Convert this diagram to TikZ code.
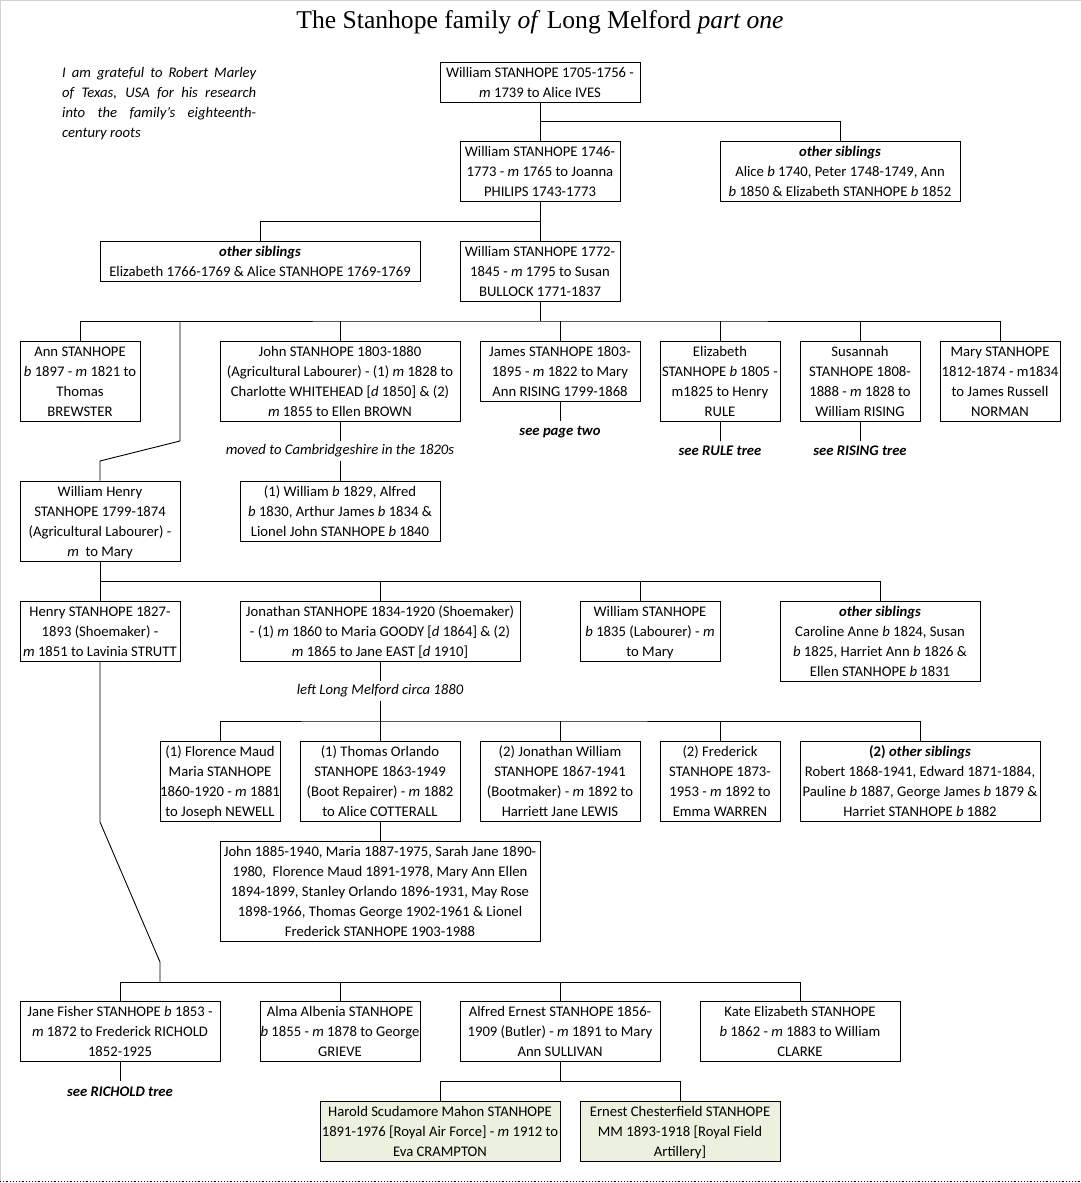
\documentclass[tikz,border=0pt]{standalone}
\usepackage{fontspec}
\setmainfont{Carlito}
\newfontfamily\titlefont{Liberation Serif}
\definecolor{boxgreen}{HTML}{EBF1DE}
\newcommand{\mi}{\textit{m}}
\newcommand{\bi}{\textit{b}}
\newcommand{\di}{\textit{d}}
\newcommand{\osib}{\textbf{\textit{other siblings}}}
\newcommand{\sT}{\rule{0pt}{15pt}}
\newcommand{\sB}{\rule[-5pt]{0pt}{5pt}}
\begin{document}
\begin{tikzpicture}[x=1pt,y=-1pt,
  every node/.style={font=\fontsize{14.67}{20}\selectfont},
  box/.style={draw=black,line width=0.9pt,fill=white,align=center,inner sep=0pt},
  gbox/.style={box,fill=boxgreen},
  lbl/.style={align=center,inner sep=0pt},
  conn/.style={line width=0.9pt,black}]
\useasboundingbox (0,0) rectangle (1081,1183);
\fill[white] (0,0) rectangle (1081,1183);
\draw[gray!35,line width=1.2pt] (0.6,1183) -- (0.6,0.6) -- (1081,0.6);
\draw[dotted,line width=1.2pt] (0,1181.5) -- (1081,1181.5);

% title and note
\node[lbl,font=\titlefont\fontsize{25.6}{28}\selectfont] (title) at (540,22) {The Stanhope family \textit{of} Long Melford \textit{part one}};
\node[lbl,anchor=north west,inner sep=0pt] (note) at (62,67)
 {\begin{minipage}[t]{194pt}\itshape\fontsize{14.67}{20}\selectfont\setlength\baselineskip{20pt}\rule{0pt}{0pt}%
 \hbox to 194pt{I am grateful to Robert Marley}
 \hbox to 194pt{of Texas, USA for his research}
 \hbox to 194pt{into the family's eighteenth-}
 \hbox to 194pt{century roots\hfil}
 \end{minipage}};

% boxes
\node[box,minimum width=200,minimum height=40] (A) at (540,82) {\sT William STANHOPE 1705-1756 -\\\mi\ 1739 to Alice IVES\sB};
\node[box,minimum width=160,minimum height=60] (B) at (540,171) {\sT William STANHOPE 1746-\\1773 - \mi\ 1765 to Joanna\\PHILIPS 1743-1773\sB};
\node[box,minimum width=240,minimum height=60] (C) at (840,171) {\sT\osib\\Alice \bi\ 1740, Peter 1748-1749, Ann\\\bi\ 1850 \& Elizabeth STANHOPE \bi\ 1852\sB};
\node[box,minimum width=320,minimum height=40] (D) at (260,261) {\sT\osib\\Elizabeth 1766-1769 \& Alice STANHOPE 1769-1769\sB};
\node[box,minimum width=160,minimum height=60] (E) at (540,271) {\sT William STANHOPE 1772-\\1845 - \mi\ 1795 to Susan\\BULLOCK 1771-1837\sB};

\node[box,minimum width=120,minimum height=80] (F) at (80,381) {\sT Ann STANHOPE\\\bi\ 1897 - \mi\ 1821 to\\Thomas\\BREWSTER\sB};
\node[box,minimum width=240,minimum height=80] (G) at (340,381) {\sT John STANHOPE 1803-1880\\(Agricultural Labourer) - (1) \mi\ 1828 to\\Charlotte WHITEHEAD [\di\ 1850] \& (2)\\\mi\ 1855 to Ellen BROWN\sB};
\node[box,minimum width=160,minimum height=60] (H) at (560,371) {\sT James STANHOPE 1803-\\1895 - \mi\ 1822 to Mary\\Ann RISING 1799-1868\sB};
\node[box,minimum width=120,minimum height=80] (I) at (720,381) {\sT Elizabeth\\STANHOPE \bi\ 1805 -\\m1825 to Henry\\RULE\sB};
\node[box,minimum width=120,minimum height=80] (J) at (860,381) {\sT Susannah\\STANHOPE 1808-\\1888 - \mi\ 1828 to\\William RISING\sB};
\node[box,minimum width=120,minimum height=80] (K) at (1000,381) {\sT Mary STANHOPE\\1812-1874 - m1834\\to James Russell\\NORMAN\sB};

\node[box,minimum width=200,minimum height=60] (L) at (340,511) {\sT(1) William \bi\ 1829, Alfred\\\bi\ 1830, Arthur James \bi\ 1834 \&\\Lionel John STANHOPE \bi\ 1840\sB};
\node[box,minimum width=160,minimum height=80] (M) at (100,521) {\sT William Henry\\STANHOPE 1799-1874\\(Agricultural Labourer) -\\\mi\ \ to Mary\sB};

\node[box,minimum width=160,minimum height=60] (N) at (100,631) {\sT Henry STANHOPE 1827-\\1893 (Shoemaker) -\\\mi\ 1851 to Lavinia STRUTT\sB};
\node[box,minimum width=280,minimum height=60] (O) at (380,631) {\sT Jonathan STANHOPE 1834-1920 (Shoemaker)\\- (1) \mi\ 1860 to Maria GOODY [\di\ 1864] \& (2)\\\mi\ 1865 to Jane EAST [\di\ 1910]\sB};
\node[box,minimum width=140,minimum height=60] (P) at (650,631) {\sT William STANHOPE\\\bi\ 1835 (Labourer) - \mi\\to Mary\sB};
\node[box,minimum width=200,minimum height=80] (Q) at (880,641) {\sT\osib\\Caroline Anne \bi\ 1824, Susan\\\bi\ 1825, Harriet Ann \bi\ 1826 \&\\Ellen STANHOPE \bi\ 1831\sB};

\node[box,minimum width=120,minimum height=80] (R) at (220,781) {\sT(1) Florence Maud\\Maria STANHOPE\\1860-1920 - \mi\ 1881\\to Joseph NEWELL\sB};
\node[box,minimum width=160,minimum height=80] (S) at (380,781) {\sT(1) Thomas Orlando\\STANHOPE 1863-1949\\(Boot Repairer) - \mi\ 1882\\to Alice COTTERALL\sB};
\node[box,minimum width=160,minimum height=80] (T) at (560,781) {\sT(2) Jonathan William\\STANHOPE 1867-1941\\(Bootmaker) - \mi\ 1892 to\\Harriett Jane LEWIS\sB};
\node[box,minimum width=120,minimum height=80] (U) at (720,781) {\sT(2) Frederick\\STANHOPE 1873-\\1953 - \mi\ 1892 to\\Emma WARREN\sB};
\node[box,minimum width=240,minimum height=80] (V) at (920,781) {\sT\textbf{(2)} \osib\\Robert 1868-1941, Edward 1871-1884,\\Pauline \bi\ 1887, George James \bi\ 1879 \&\\Harriet STANHOPE \bi\ 1882\sB};

\node[box,minimum width=320,minimum height=100] (W) at (380,891) {\sT John 1885-1940, Maria 1887-1975, Sarah Jane 1890-\\1980, \ Florence Maud 1891-1978, Mary Ann Ellen\\1894-1899, Stanley Orlando 1896-1931, May Rose\\1898-1966, Thomas George 1902-1961 \& Lionel\\Frederick STANHOPE 1903-1988\sB};

\node[box,minimum width=200,minimum height=60] (X) at (120,1031) {\sT Jane Fisher STANHOPE \bi\ 1853 -\\\mi\ 1872 to Frederick RICHOLD\\1852-1925\sB};
\node[box,minimum width=160,minimum height=60] (Y) at (340,1031) {\sT Alma Albenia STANHOPE\\\bi\ 1855 - \mi\ 1878 to George\\GRIEVE\sB};
\node[box,minimum width=200,minimum height=60] (Z) at (560,1031) {\sT Alfred Ernest STANHOPE 1856-\\1909 (Butler) - \mi\ 1891 to Mary\\Ann SULLIVAN\sB};
\node[box,minimum width=200,minimum height=60] (AA) at (800,1031) {\sT Kate Elizabeth STANHOPE\\\bi\ 1862 - \mi\ 1883 to William\\CLARKE\sB};

\node[gbox,minimum width=240,minimum height=60] (AB) at (440,1131) {\sT Harold Scudamore Mahon STANHOPE\\1891-1976 [Royal Air Force] - \mi\ 1912 to\\Eva CRAMPTON\sB};
\node[gbox,minimum width=200,minimum height=60] (AC) at (680,1131) {\sT Ernest Chesterfield STANHOPE\\MM 1893-1918 [Royal Field\\Artillery]\sB};

% labels
\node[lbl,font=\bfseries\itshape\fontsize{14.67}{20}\selectfont] (lH) at (560,432) {see page two};
\node[lbl,font=\bfseries\itshape\fontsize{14.67}{20}\selectfont] (lI) at (720,451) {see RULE tree};
\node[lbl,font=\bfseries\itshape\fontsize{14.67}{20}\selectfont] (lJ) at (860,451) {see RISING tree};
\node[lbl,font=\itshape\fontsize{14.67}{20}\selectfont] (lG) at (340,451) {moved to Cambridgeshire in the 1820s};
\node[lbl,font=\itshape\fontsize{14.67}{20}\selectfont] (lO) at (380,691) {left Long Melford circa 1880};
\node[lbl,font=\bfseries\itshape\fontsize{14.67}{20}\selectfont] (lX) at (120,1092) {see RICHOLD tree};

% bus coordinates
\coordinate (busA) at (540,121);
\coordinate (busB) at (540,221);
\coordinate (busE) at (540,321);
\coordinate (wh0) at (180,321);
\coordinate (wh1) at (180,441);
\coordinate (wh2) at (100,461);
\coordinate (gA) at (340,441);
\coordinate (gB) at (340,461);
\coordinate (busM) at (100,581);
\coordinate (oA) at (380,681);
\coordinate (oB) at (380,701);
\coordinate (busO) at (380,721);
\coordinate (hn1) at (100,822);
\coordinate (hn2) at (160,962);
\coordinate (busN) at (160,982);
\coordinate (busZ) at (560,1081);

% connectors
\draw[conn] (A.south) -- (B.north);
\draw[conn] (busA) -| (C.north);
\draw[conn] (B.south) -- (E.north);
\draw[conn] (busB) -| (D.north);
\draw[conn] (E.south) -- (busE);
\draw[conn] (F.north) |- (busE) -| (K.north);
\draw[conn] (G.north) -- (G.north |- busE);
\draw[conn] (H.north) -- (H.north |- busE);
\draw[conn] (I.north) -- (I.north |- busE);
\draw[conn] (J.north) -- (J.north |- busE);
\draw[conn] (wh0) -- (wh1) -- (wh2) -- (M.north);
\draw[conn] (G.south) -- (gA);
\draw[conn] (gB) -- (L.north);
\draw[conn] (H.south) -- ++(0,20);
\draw[conn] (I.south) -- ++(0,20);
\draw[conn] (J.south) -- ++(0,20);
\draw[conn] (M.south) -- (N.north);
\draw[conn] (busM) -| (Q.north);
\draw[conn] (O.north) -- (O.north |- busM);
\draw[conn] ([xshift=-10pt]P.north) -- ([xshift=-10pt]P.north |- busM);
\draw[conn] (O.south) -- (oA);
\draw[conn] (oB) -- (S.north);
\draw[conn] (R.north) |- (busO) -| (V.north);
\draw[conn] (T.north) -- (T.north |- busO);
\draw[conn] (U.north) -- (U.north |- busO);
\draw[conn] (S.south) -- (W.north);
\draw[conn] (N.south) -- (hn1) -- (hn2) -- (busN);
\draw[conn] (X.north) |- (busN) -| (AA.north);
\draw[conn] (Y.north) -- (Y.north |- busN);
\draw[conn] (Z.north) -- (Z.north |- busN);
\draw[conn] (X.south) -- ++(0,20);
\draw[conn] (Z.south) -- (busZ);
\draw[conn] (AB.north) |- (busZ) -| (AC.north);
\end{tikzpicture}
\end{document}
